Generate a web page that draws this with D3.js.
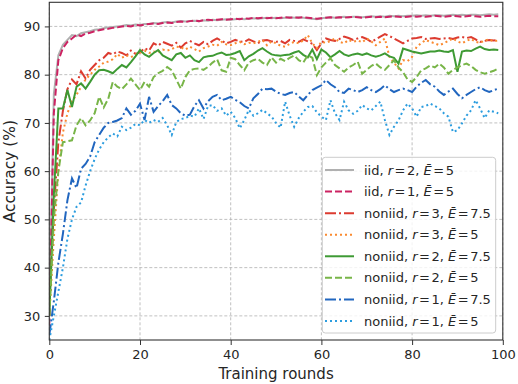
<!DOCTYPE html>
<html>
<head>
<meta charset="utf-8">
<script src="https://cdn.jsdelivr.net/npm/d3@7/dist/d3.min.js"></script>
<style>
body { margin: 0; background: #fff; }
text { font-family: "DejaVu Sans", sans-serif; fill: #262626; }
</style>
</head>
<body>
<div id="chart"></div>
<script>
// training rounds 0..99
const rounds = d3.range(100);
const xTicks = [0, 20, 40, 60, 80, 100];
const yTicks = [30, 40, 50, 60, 70, 80, 90];

const iidR2E5 = [30, 76, 84, 86.2, 87.2, 88.2, 88, 88.6, 88.8, 89,
  89.3, 89.4, 89.6, 89.8, 89.9, 90, 90.1, 90.3, 90.2, 90.4,
  90.3, 90.5, 90.5, 90.7, 90.6, 90.8, 90.9, 90.8, 91, 91.1,
  91, 91.1, 91.2, 91.1, 91.3, 91.2, 91.4, 91.3, 91.4, 91.5,
  91.4, 91.5, 91.6, 91.5, 91.6, 91.7, 91.6, 91.7, 91.8, 91.7,
  91.8, 91.7, 91.8, 91.9, 91.8, 91.9, 91.8, 91.7, 91.6, 91.5,
  91.7, 91.8, 91.9, 91.8, 91.9, 92, 91.9, 92, 92, 91.9,
  92, 92.1, 92, 92.1, 92, 92.2, 92.1, 92.2, 92.1, 92.2,
  92.2, 92.3, 92.2, 92.3, 92.2, 92.3, 92.3, 92.2, 92.3, 92.4,
  92.3, 92.4, 92.3, 92.4, 92.4, 92.3, 92.4, 92.5, 92.4, 92.5];

const iidR1E5 = [28, 72, 83, 85.5, 86.8, 87.5, 88.3, 88, 88.5, 88.7,
  89, 89.2, 89.4, 89.5, 89.7, 89.8, 90, 90.1, 90, 90.3,
  90.2, 90.4, 90.5, 90.6, 90.5, 90.7, 90.8, 90.7, 90.9, 91,
  90.9, 91.1, 91.2, 91.1, 91.3, 91.4, 91.3, 91.4, 91.5, 91.4,
  91.5, 91.6, 91.5, 91.7, 91.6, 91.8, 91.7, 91.8, 91.7, 91.8,
  91.7, 91.8, 91.9, 91.8, 91.9, 91.8, 91.9, 91.8, 91.7, 91.6,
  91.7, 91.8, 91.9, 91.8, 91.9, 91.8, 91.9, 92, 91.9, 91.8,
  91.9, 92, 91.9, 92, 91.9, 92, 92.1, 92, 91.9, 92,
  92.1, 92, 92.1, 92, 92.1, 92.2, 92.1, 92, 92.1, 92.2,
  92.1, 92, 92.1, 92.2, 92.1, 92, 92.1, 92.2, 92.1, 92.1];

const nonR3E75 = [32, 52, 66, 72.5, 77, 79, 78, 80.7, 79.2, 81,
  82, 83, 83.5, 84.5, 84.2, 84.8, 84.5, 84, 85, 84.3,
  84.6, 85.5, 85, 86.5, 86, 86.8, 86.4, 86, 86.6, 85.6,
  86.5, 87, 86.5, 86.1, 86.8, 86.3, 87, 87.5, 87, 86.5,
  86.8, 87.2, 86.9, 86.8, 87.3, 86.9, 86.5, 87.1, 87.2, 86.9,
  86.8, 87, 86.5, 87.2, 87, 86.8, 87.3, 86.9, 86.4, 85.1,
  86.5, 87.5, 87.2, 87, 87.4, 87.9, 87.6, 87.2, 87.5, 87.8,
  87.4, 86.8, 87.3, 87.9, 88.4, 88, 87.5, 87, 86.5, 87,
  87.5, 87.6, 87.8, 87.4, 87.5, 87.6, 87.4, 87.5, 87.6, 87.4,
  87.7, 87.8, 87.6, 87.8, 87.3, 86.8, 87, 87.2, 87.1, 87.2];

const nonR3E5 = [30, 46, 60, 68, 72, 74.5, 75.8, 77.5, 79, 80,
  81, 81.7, 82.5, 82.7, 83.2, 84.3, 83.5, 84, 83.6, 84.2,
  84.5, 85, 84.5, 84.8, 84.6, 85.2, 85, 85.3, 85.8, 85.7,
  85.2, 85.8, 85.3, 84.8, 85.5, 85.8, 86.2, 86, 86.8, 86.3,
  86.1, 86.5, 86.8, 86.3, 86.6, 86.5, 86.8, 87.2, 86.1, 86.9,
  86.5, 86, 85.8, 86.4, 86.8, 86.5, 87.1, 88.2, 86.5, 85.5,
  86.8, 86.6, 87, 87.5, 86.8, 86.5, 87.2, 86.8, 87.1, 86.7,
  87.5, 86.9, 86.1, 86.8, 87.5, 83.7, 82.5, 81.3, 83, 82.8,
  83.7, 85.8, 86.5, 87.2, 86.8, 86.5, 86.1, 86.5, 87, 87.5,
  86.9, 86.5, 87, 87.4, 86.8, 86.6, 87.1, 87.3, 86.9, 87.1];

const nonR2E75 = [30, 55, 73, 73, 76.8, 73.3, 77.5, 78.2, 77.1, 78.5,
  80, 80.9, 81, 80.7, 80.3, 81.2, 82, 81.5, 82.6, 83.8,
  85.1, 84.2, 83.7, 84.5, 85.1, 84, 83.5, 83, 84.2, 84.5,
  83.5, 84, 83, 82.6, 83.6, 83.8, 83.9, 84.3, 84.6, 84.1,
  84.2, 84.5, 84.9, 83, 83.8, 84.3, 85, 85.5, 84.8, 84.2,
  84, 83.9, 84.1, 84.2, 84.6, 84.9, 84.1, 83.6, 85.2, 83.2,
  85.2, 84.6, 83.6, 84.2, 84.9, 84.2, 83.9, 84.2, 84.4, 84.1,
  84.4, 84, 83.7, 84, 84.4, 83.8, 83.5, 82.3, 85.4, 85.1,
  84.8, 84.6, 84.4, 84.6, 84.8, 84.8, 85, 84.8, 84.7, 85.1,
  80.6, 84.8, 85, 84.9, 85.4, 85.8, 85.3, 85.1, 85.2, 85.1];

const nonR2E5 = [30, 50, 60, 66, 66.2, 66.4, 69.5, 71, 69.5, 70.5,
  72, 75.4, 73.2, 75, 78.5, 77.5, 77, 78, 79.2, 78,
  76.8, 78.5, 77.5, 79.5, 80.3, 80.8, 81.6, 80.9, 79, 77.1,
  79.5, 80.9, 81.2, 81.3, 81, 81.6, 82.5, 83.2, 80.9, 80.6,
  83.5, 83.2, 82, 80.9, 82.5, 83, 83.3, 82.5, 82, 83.6,
  82.5, 83.3, 82.8, 83.5, 84, 83, 82.5, 84, 83.5, 79.9,
  81.5, 82.5, 83.4, 82, 81.3, 80.6, 81.5, 82, 82.7, 80.2,
  81, 81.8, 82.3, 81.5, 81, 82, 83, 81.5, 80.5, 79,
  78.5, 79.5, 80.9, 81.3, 81.9, 81.5, 82.3, 81.5, 80.2, 81,
  81.5, 82, 82.3, 81.8, 81, 80.5, 80.2, 80.5, 80.8, 81.3];

const nonR1E75 = [26, 33, 41, 47, 54, 58.5, 56.5, 60.5, 61.5, 63,
  66, 67.5, 69, 70, 70.2, 70.5, 71, 73, 71.7, 72.5,
  74, 70.6, 75.4, 72.3, 73.5, 74.5, 75.8, 73.7, 73, 72,
  71.5, 71.7, 73.5, 74.7, 73, 74.5, 75.4, 75.8, 74.7, 75,
  75.4, 74.8, 74.3, 73.5, 73, 75.1, 76, 77.1, 77, 77.1,
  76.5, 76, 75.8, 76.2, 76.4, 75.5, 74.7, 75.8, 76.8, 77.3,
  77.8, 78.9, 78, 77.4, 76.4, 76.2, 77.1, 76.8, 76.4, 76.8,
  77.4, 76.8, 76.4, 77, 77.8, 77, 76.4, 76.8, 77.1, 76.8,
  76.4, 77.5, 78.3, 78.9, 78, 77.5, 76.5, 75.8, 76.5, 77.1,
  76, 75.1, 75.8, 76.4, 77, 77.4, 76.8, 76.4, 76.8, 77.1];

const nonR1E5 = [25, 30, 35, 40, 46, 50, 52.6, 53.5, 57, 60,
  62.5, 64.5, 66, 67, 67.8, 67.2, 69.2, 68.5, 69, 69.8,
  69.5, 70.6, 70, 70.6, 70.2, 71, 69.5, 67.5, 70.2, 70.8,
  71, 71.5, 71.3, 73, 70.8, 73.5, 73.7, 72.5, 73, 71.5,
  72.3, 71, 68.9, 70.6, 72.7, 71.5, 72, 72.7, 72, 71.3,
  70, 69, 74.4, 71.5, 69.2, 71, 72.3, 73.3, 73.5, 72.2,
  71.3, 70.6, 74.7, 72, 70.6, 74.4, 72.6, 71.9, 72.5, 73.7,
  73, 72.6, 73.5, 74.4, 70.6, 67.5, 69.2, 70.5, 72.6, 74,
  73, 71.3, 73.3, 73.5, 74, 73.5, 73, 72, 71.3, 68.1,
  68.5, 69.9, 71.5, 72.6, 74.7, 73, 71, 72.6, 72.3, 72];

// legend labels: [dataset, r, E-bar]
const labelSets = ["iid", "iid", "noniid", "noniid", "noniid", "noniid", "noniid", "noniid"];
const labelR = ["2", "1", "3", "3", "2", "2", "1", "1"];
const labelE = ["5", "5", "7.5", "5", "7.5", "5", "7.5", "5"];
const allValues = [iidR2E5, iidR1E5, nonR3E75, nonR3E5, nonR2E75, nonR2E5, nonR1E75, nonR1E5];

const colors = ["#b0b0b0", "#cc2362", "#dc3b30", "#fa8a30", "#3e9a34", "#78b548", "#2166bf", "#2c9ddf"];
const dashes = [null, "7,3", "11,3,2,3", "2,3", null, "7,3", "11,3,2,3", "2,3"];

const width = 518, height = 384;
const mLeft = 49.3, mRight = 502.8, mTop = 2.3, mBottom = 340;

const svg = d3.select("#chart").append("svg").attr("width", width).attr("height", height);

const x = d3.scaleLinear().domain([0, 100]).range([mLeft, mRight]);
const y = d3.scaleLinear().domain([25, 95]).range([mBottom, mTop]);

// grid
svg.append("g").selectAll("line").data(xTicks).join("line")
    .attr("x1", d => x(d)).attr("x2", d => x(d))
    .attr("y1", mTop).attr("y2", mBottom)
    .attr("stroke", "#b0b0b0").attr("stroke-width", 0.8).attr("stroke-dasharray", "3,2");
svg.append("g").selectAll("line").data(yTicks).join("line")
    .attr("x1", mLeft).attr("x2", mRight)
    .attr("y1", d => y(d)).attr("y2", d => y(d))
    .attr("stroke", "#b0b0b0").attr("stroke-width", 0.8).attr("stroke-dasharray", "3,2");

svg.append("clipPath").attr("id", "clip").append("rect")
    .attr("x", mLeft).attr("y", mTop).attr("width", mRight - mLeft).attr("height", mBottom - mTop);

const line = d3.line().x((d, i) => x(rounds[i])).y(d => y(d));

const plot = svg.append("g").attr("clip-path", "url(#clip)");
allValues.forEach((vals, k) => {
  plot.append("path")
      .datum(vals)
      .attr("d", line)
      .attr("fill", "none")
      .attr("stroke", colors[k])
      .attr("stroke-width", 2)
      .attr("stroke-dasharray", dashes[k]);
});

// axes
const xAxis = svg.append("g").attr("transform", `translate(0,${mBottom})`)
    .call(d3.axisBottom(x).tickValues(xTicks).tickSize(5).tickPadding(5));
const yAxis = svg.append("g").attr("transform", `translate(${mLeft},0)`)
    .call(d3.axisLeft(y).tickValues(yTicks).tickSize(4.5).tickPadding(4.5));
[xAxis, yAxis].forEach(a => {
  a.select(".domain").remove();
  a.selectAll(".tick line").attr("stroke", "#333").attr("stroke-width", 1);
  a.selectAll(".tick text").attr("font-size", 13).attr("font-family", "DejaVu Sans").attr("fill", "#262626");
});

svg.append("rect")
    .attr("x", mLeft).attr("y", mTop)
    .attr("width", mRight - mLeft).attr("height", mBottom - mTop)
    .attr("fill", "none").attr("stroke", "#333").attr("stroke-width", 1.1);

svg.append("text")
    .attr("x", (mLeft + mRight) / 2).attr("y", 378.5)
    .attr("text-anchor", "middle").attr("font-size", 15)
    .text("Training rounds");
svg.append("text")
    .attr("transform", `translate(14.5,${(mTop + mBottom) / 2}) rotate(-90)`)
    .attr("text-anchor", "middle").attr("font-size", 15.5)
    .text("Accuracy (%)");

// legend
const legend = svg.append("g");
legend.append("rect")
    .attr("x", 322.3).attr("y", 157.3)
    .attr("width", 173.4).attr("height", 175.7)
    .attr("rx", 3)
    .attr("fill", "rgba(255,255,255,0.8)")
    .attr("stroke", "#cccccc").attr("stroke-width", 1);

labelSets.forEach((set, k) => {
  const cy = 170 + k * 21.57;
  legend.append("line")
      .attr("x1", 325).attr("x2", 354)
      .attr("y1", cy).attr("y2", cy)
      .attr("stroke", colors[k]).attr("stroke-width", 2)
      .attr("stroke-dasharray", dashes[k]);
  const t = legend.append("text")
      .attr("x", 364).attr("y", cy + 4.6)
      .attr("font-size", 13);
  t.append("tspan").text(set + ", ");
  t.append("tspan").attr("font-style", "italic").text("r");
  t.append("tspan").attr("dx", 1.5).text("=");
  t.append("tspan").attr("dx", 1.5).text(labelR[k] + ", ");
  t.append("tspan").attr("font-style", "italic").text("Ē");
  t.append("tspan").attr("dx", 1.5).text("=");
  t.append("tspan").attr("dx", 1.5).text(labelE[k]);
});
</script>
</body>
</html>
